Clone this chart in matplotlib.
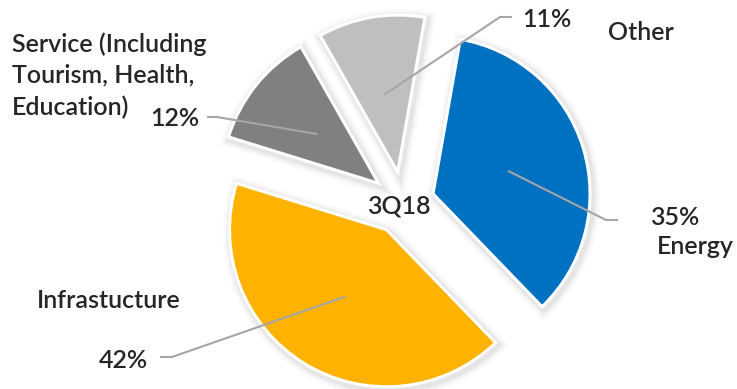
import matplotlib
matplotlib.use("Agg")
import matplotlib.pyplot as plt
import numpy as np
from matplotlib.patches import Wedge

# ---- data ----
categories = ["Energy", "Infrastucture", "Service (Including\nTourism, Health,\nEducation)", "Other"]
shares = [35, 42, 12, 11]
pct_labels = ["35%", "42%", "12%", "11%"]
colors = ["#0070C0", "#FFB200", "#808080", "#BFBFBF"]
center_label = "3Q18"

W, H = 737, 389
R_PX = 157.0
CX, CY = 403.0, 203.0
LINE_PX = 31.5

fig = plt.figure(figsize=(W / 100, H / 100), dpi=100)
ax = fig.add_axes([0, 0, 1, 1])

def px(x, y):
    return ((x - CX) / R_PX, (CY - y) / R_PX)

explode = [0.2] * len(shares)
wedges, _ = ax.pie(shares, colors=colors, startangle=80, counterclock=False,
                   explode=explode, radius=1.0,
                   wedgeprops=dict(edgecolor="white", linewidth=2.2, zorder=3))

ax.set_aspect("auto")
x0, y0 = px(0, H)
x1, y1 = px(W, 0)
ax.set_xlim(x0, x1)
ax.set_ylim(y0, y1)
ax.axis("off")

# soft shadow behind wedges
for w in wedges:
    for lw, a in [(12, 0.025), (8, 0.035), (5, 0.045)]:
        sh = Wedge((w.center[0] + 0.012, w.center[1] - 0.015), w.r, w.theta1, w.theta2,
                   facecolor="none", edgecolor="black", linewidth=lw, alpha=a, zorder=1)
        ax.add_patch(sh)

fkw = dict(family=["Lato", "DejaVu Sans"], color="#262626", fontsize=18, fontweight="semibold")
line_col = "#A6A6A6"

# label placements (pixel positions): pct text, category text (first line centre), elbow
pct_pos = [(650, 218, "left"), (148, 360, "right"), (199, 119, "right"), (522, 20, "left")]
cat_pos = [(657, 246), (37, 300), (12, 44), (608, 33)]
elbows = [((606, 220), (618, 220)), ((172, 357), (160, 357)),
          ((217, 117), (207, 117)), ((500, 17), (512, 17))]

for i, w in enumerate(wedges):
    ang = np.deg2rad((w.theta1 + w.theta2) / 2)
    r_anchor = explode[i] + 0.5
    ax_, ay_ = r_anchor * np.cos(ang), r_anchor * np.sin(ang)
    (ex, ey), (tx, ty) = elbows[i]
    p1 = px(ex, ey)
    p2 = px(tx, ty)
    ax.plot([ax_, p1[0], p2[0]], [ay_, p1[1], p2[1]], color=line_col, lw=1.5,
            zorder=4, solid_capstyle="butt")
    x, y, ha = pct_pos[i]
    ax.text(*px(x, y), pct_labels[i], ha=ha, va="center", zorder=5, **fkw)
    cx, cy = cat_pos[i]
    for k, line in enumerate(categories[i].split("\n")):
        ax.text(*px(cx, cy + k * LINE_PX), line, ha="left", va="center", zorder=5, **fkw)

ax.text(*px(399, 206), center_label, ha="center", va="center", zorder=5, **fkw)

fig.savefig("out.png", dpi=100, facecolor="white")
